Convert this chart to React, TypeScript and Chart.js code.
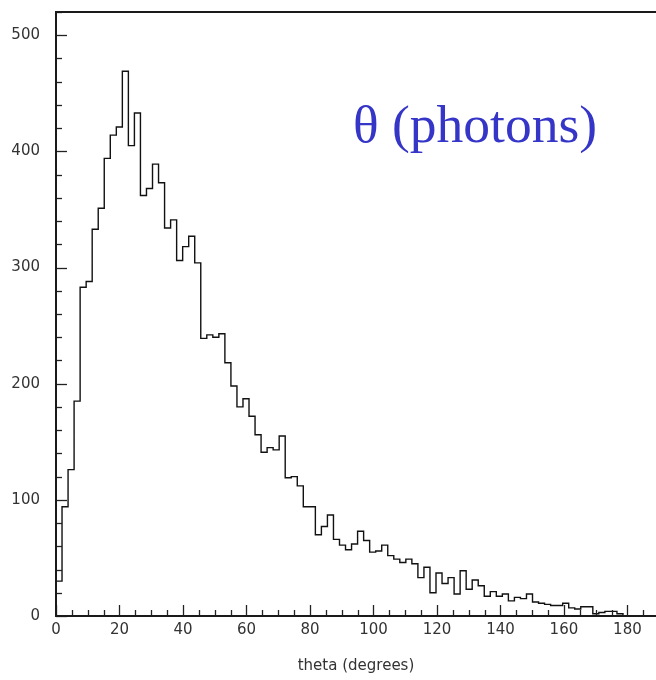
import React, { useEffect, useRef } from "react";
import { Chart, registerables } from "chart.js";

Chart.register(...registerables);

// Histogram: 1.9-degree bins starting at 0 (counts)
const BIN_WIDTH = 1.9;
const counts = [
  30, 94, 126, 185, 283, 288, 333, 351, 394, 414,
  421, 469, 405, 433, 362, 368, 389, 373, 334, 341,
  306, 318, 327, 304, 239, 242, 240, 243, 218, 198,
  180, 187, 172, 156, 141, 145, 143, 155, 119, 120,
  112, 94, 94, 70, 77, 87, 66, 61, 57, 62,
  73, 65, 55, 56, 61, 52, 49, 46, 49, 45,
  33, 42, 20, 37, 28, 33, 19, 39, 23, 31,
  26, 17, 21, 17, 19, 13, 16, 15, 19, 12,
  11, 10, 9, 9, 11, 7, 6, 8, 8, 2,
  3, 4, 4, 2,
];

const xMajorTicks = [0, 20, 40, 60, 80, 100, 120, 140, 160, 180];
const yMajorTicks = [0, 100, 200, 300, 400, 500];
const X_MIN = 0;
const X_MAX = 189;
const Y_MIN = 0;
const Y_MAX = 520;
const X_MINOR_STEP = 5;
const Y_MINOR_STEP = 20;
const X_MAJOR_STEP = 20;
const Y_MAJOR_STEP = 100;

const TITLE = "θ (photons)";
const X_LABEL = "theta (degrees)";

const framePlugin = {
  id: "frame",
  afterDatasetsDraw(chart: any) {
    const { ctx, chartArea, scales } = chart;
    const { left, right, top, bottom } = chartArea;
    const x = scales.x;
    const y = scales.y;
    ctx.save();
    ctx.strokeStyle = "#222";
    ctx.lineWidth = 1.3;
    for (let v = X_MIN; v <= X_MAX; v += X_MINOR_STEP) {
      const px = Math.round(x.getPixelForValue(v)) + 0.5;
      const len = v % X_MAJOR_STEP === 0 ? 11 : 6;
      ctx.beginPath();
      ctx.moveTo(px, bottom);
      ctx.lineTo(px, bottom - len);
      ctx.stroke();
    }
    for (let v = Y_MIN; v <= Y_MAX; v += Y_MINOR_STEP) {
      const py = Math.round(y.getPixelForValue(v)) + 0.5;
      const len = v % Y_MAJOR_STEP === 0 ? 11 : 6;
      ctx.beginPath();
      ctx.moveTo(left, py);
      ctx.lineTo(left + len, py);
      ctx.stroke();
    }
    ctx.lineWidth = 2;
    ctx.strokeStyle = "#1a1a1a";
    ctx.beginPath();
    ctx.moveTo(right, top);
    ctx.lineTo(left, top);
    ctx.lineTo(left, bottom);
    ctx.lineTo(right, bottom);
    ctx.stroke();

    ctx.fillStyle = "#3535c8";
    ctx.font = '53.5px "Liberation Serif"';
    ctx.textAlign = "left";
    ctx.textBaseline = "alphabetic";
    ctx.fillText(TITLE, 353, 142);
    ctx.restore();
  },
};

export default function App() {
  const canvasRef = useRef<HTMLCanvasElement | null>(null);

  useEffect(() => {
    const canvas = canvasRef.current;
    if (!canvas) return;
    const points = [
      { x: 0, y: 0 },
      ...counts.map((c, i) => ({ x: i * BIN_WIDTH, y: c })),
      { x: counts.length * BIN_WIDTH, y: 0 },
    ];
    const tickFont = { family: "DejaVu Sans", size: 15 };
    const chart = new Chart(canvas, {
      type: "line",
      data: {
        datasets: [
          {
            data: points,
            stepped: "before",
            borderColor: "#111",
            borderWidth: 1.4,
            pointRadius: 0,
            fill: false,
          },
        ],
      },
      options: {
        animation: false,
        responsive: false,
        events: [],
        layout: { padding: { top: 12, right: 0, bottom: 0, left: 0 } },
        plugins: {
          legend: { display: false },
          tooltip: { enabled: false },
        },
        scales: {
          x: {
            type: "linear",
            min: X_MIN,
            max: X_MAX,
            grid: { display: false, drawTicks: false },
            border: { display: false },
            afterBuildTicks: (scale: any) => {
              scale.ticks = xMajorTicks.map((v) => ({ value: v }));
            },
            afterFit: (scale: any) => {
              scale.height = 64;
              scale.paddingLeft = 0;
              scale.paddingRight = 0;
            },
            ticks: {
              font: tickFont,
              color: "#333",
              padding: 5,
              maxRotation: 0,
              autoSkip: false,
              callback: (v: any) => String(v),
            },
            title: {
              display: true,
              text: X_LABEL,
              font: { family: "DejaVu Sans", size: 15 },
              color: "#333",
              padding: { top: 0, bottom: 5 },
            },
          },
          y: {
            type: "linear",
            min: Y_MIN,
            max: Y_MAX,
            grid: { display: false, drawTicks: false },
            border: { display: false },
            afterBuildTicks: (scale: any) => {
              scale.ticks = yMajorTicks.map((v) => ({ value: v }));
            },
            afterFit: (scale: any) => {
              scale.width = 56;
              scale.paddingTop = 0;
              scale.paddingBottom = 0;
            },
            ticks: {
              font: tickFont,
              color: "#333",
              padding: 16,
              autoSkip: false,
              callback: (v: any) => String(v),
            },
          },
        },
      },
      plugins: [framePlugin],
    } as any);
    return () => chart.destroy();
  }, []);

  return (
    <div style={{ position: "absolute", left: 0, top: 0, width: 656, height: 680, background: "#fff" }}>
      <canvas ref={canvasRef} width={656} height={680} style={{ display: "block" }} />
    </div>
  );
}
